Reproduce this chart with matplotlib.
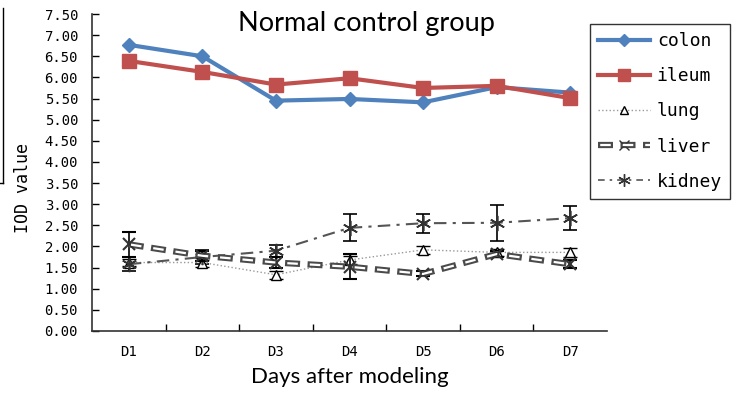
# Normal control group - IOD value per organ over days

import numpy as np
import matplotlib.pyplot as plt
from matplotlib.lines import Line2D

days = ["D1", "D2", "D3", "D4", "D5", "D6", "D7"]

colon = [6.77, 6.50, 5.45, 5.49, 5.41, 5.77, 5.64]
ileum = [6.39, 6.13, 5.83, 5.98, 5.75, 5.80, 5.51]
lung = [1.62, 1.62, 1.33, 1.68, 1.92, 1.86, 1.86]
lung_err = [0.08, 0.10, 0.10, 0.10, 0.10, 0.08, 0.10]
liver = [2.05, 1.78, 1.62, 1.52, 1.35, 1.82, 1.58]
liver_err = [0.30, 0.12, 0.12, 0.30, 0.06, 0.08, 0.10]
kidney = [1.58, 1.75, 1.90, 2.44, 2.55, 2.56, 2.67]
kidney_err = [0.16, 0.16, 0.14, 0.32, 0.22, 0.42, 0.28]

mono = "DejaVu Sans Mono"
sans = "Lato"

# "hollow" dashed line for liver: dark dashes with a white core
dark_lw, core_lw = 4.5, 1.6
on, off, inset = 10.8, 5.4, 1.6
dark_ls = (0, (on / dark_lw, off / dark_lw))
core_ls = ((on + off - inset) / core_lw, ((on - 2 * inset) / core_lw, (off + 2 * inset) / core_lw))

fig = plt.figure(figsize=(7.47, 3.96), dpi=100)
ax = fig.add_axes([92/747, 1-331/396, 515/747, 317/396])

x = np.arange(len(days)) + 0.5

ebar = dict(ecolor="black", elinewidth=1.2, capsize=5, capthick=1.2)
ax.errorbar(x, lung, yerr=lung_err, color="#999999", lw=1.0, ls=":",
            marker="^", ms=7, mfc="white", mec="black", mew=1.0, zorder=3, **ebar)
ax.errorbar(x, liver, yerr=liver_err, color="#4a4a4a", lw=dark_lw, ls=dark_ls,
            marker="x", ms=8, mec="#333333", mew=1.5, zorder=4, **ebar)
ax.plot(x, liver, color="white", lw=core_lw, ls=core_ls, zorder=4.5)
ax.errorbar(x, kidney, yerr=kidney_err, color="#555555", lw=1.5, ls=(0, (6, 3, 1.5, 3)),
            marker=(6, 2, 0), ms=11, mec="#333333", mew=1.2, zorder=3, **ebar)

ax.plot(x, colon, color="#4F81BD", lw=3, marker="D", ms=7, zorder=5)
ax.plot(x, ileum, color="#C0504D", lw=3, marker="s", ms=10, zorder=5)

ax.set_xlim(0, 7)
ax.set_ylim(0, 7.5)
yt = np.arange(0, 7.51, 0.5)
ax.set_yticks(yt)
ax.set_yticklabels(["%.2f" % v for v in yt], family=mono, fontsize=10)
ax.set_xticks(np.arange(1, 7))
ax.set_xticklabels([])
ax.set_xticks(x, minor=True)
ax.set_xticklabels(days, minor=True, family=mono, fontsize=10)
ax.tick_params(axis="x", which="major", direction="in", length=5, width=1)
ax.tick_params(axis="x", which="minor", length=0, pad=10)
ax.tick_params(axis="y", direction="in", length=5, width=1, pad=10)
for s in ["top", "right"]:
    ax.spines[s].set_visible(False)
for s in ["left", "bottom"]:
    ax.spines[s].set_linewidth(1.2)
    ax.spines[s].set_color("#333333")

ax.set_ylabel("IOD value", family=mono, fontsize=12)
ax.yaxis.set_label_coords(-0.116, 0.45)
ax.set_xlabel("Days after modeling", family=sans, fontsize=16, labelpad=6)
fig.text(366/747, 1-23/396, "Normal control group", family=sans, fontsize=19.5,
         ha="center", va="center")

liver_handle = (Line2D([], [], color="#4a4a4a", lw=dark_lw, ls=dark_ls, marker="x", ms=7, mec="#333333"),
                Line2D([], [], color="white", lw=core_lw, ls=core_ls))
handles = [
    Line2D([], [], color="#4F81BD", lw=3, marker="D", ms=6),
    Line2D([], [], color="#C0504D", lw=3, marker="s", ms=8),
    Line2D([], [], color="#999999", lw=1, ls=":", marker="^", ms=6, mfc="white", mec="black"),
    liver_handle,
    Line2D([], [], color="#555555", lw=1.2, ls=(0, (4, 3, 1.5, 3)), marker=(6, 2, 0), ms=9, mec="#333333"),
]
leg = fig.legend(handles, ["colon", "ileum", "lung", "liver", "kidney"],
                 loc="upper left", bbox_to_anchor=(590/747, 1-24/396),
                 prop={"family": mono, "size": 13}, frameon=True, fancybox=False,
                 edgecolor="black", handlelength=2.9, handletextpad=0.35,
                 labelspacing=0.95, borderpad=0.45, borderaxespad=0)
leg.get_frame().set_linewidth(1.0)

# stray box edge at left border
fig.add_artist(Line2D([3/747, 3/747], [1-8/396, 1-183/396], color="black", lw=1))
fig.add_artist(Line2D([0, 3/747], [1-183/396, 1-183/396], color="black", lw=1))

fig.savefig("out.png", dpi=100)
